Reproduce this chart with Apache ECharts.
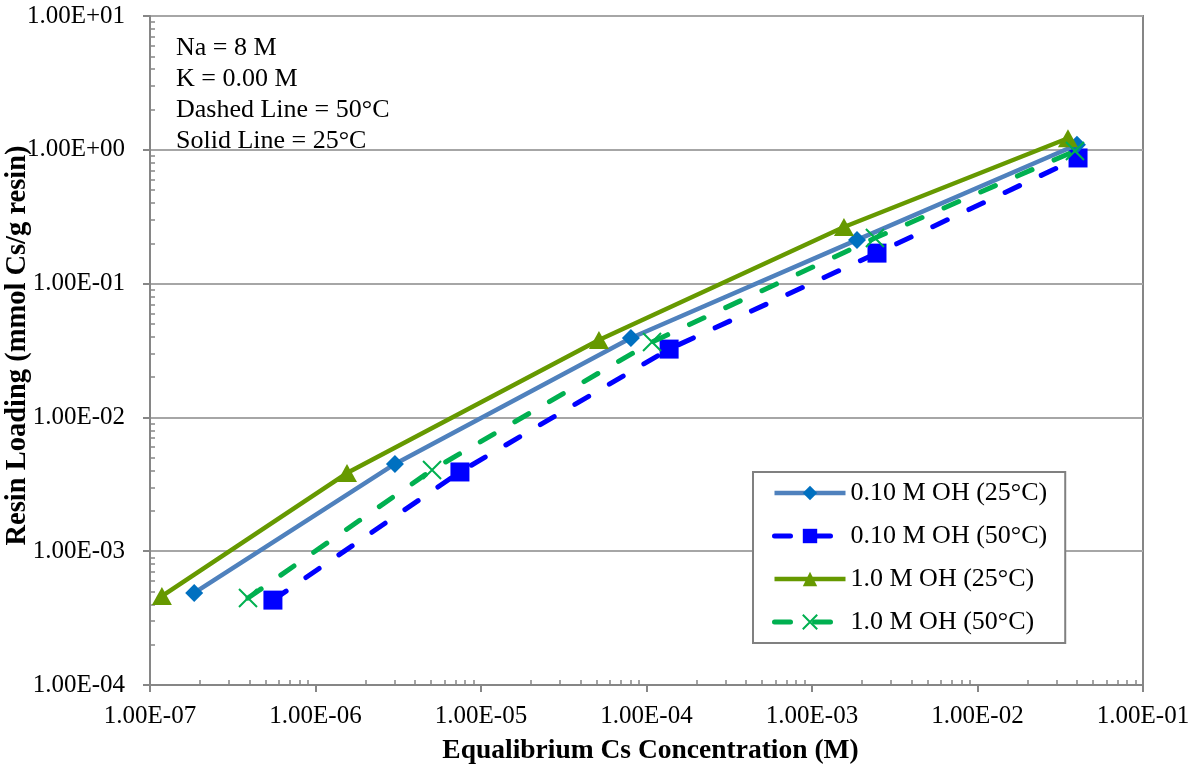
<!DOCTYPE html>
<html>
<head>
<meta charset="utf-8">
<script src="https://cdn.jsdelivr.net/npm/echarts@6/dist/echarts.min.js"></script>
<style>
html,body{margin:0;padding:0;background:#fff;}
#chart{width:1200px;height:769px;}
</style>
</head>
<body>
<div id="chart"></div>
<script>
// ---- data ----
const seriesNames = ['0.10 M OH (25°C)', '0.10 M OH (50°C)', '1.0 M OH (25°C)', '1.0 M OH (50°C)'];
const x_010_25 = [1.85e-7, 3.02e-6, 8.05e-5, 1.87e-3, 3.99e-2];
const y_010_25 = [4.88e-4, 4.49e-3, 3.92e-2, 0.212, 1.09];
const x_010_50 = [5.53e-7, 7.46e-6, 1.37e-4, 2.47e-3, 4.05e-2];
const y_010_50 = [4.31e-4, 3.91e-3, 3.24e-2, 0.169, 0.869];
const x_10_25 = [1.18e-7, 1.55e-6, 5.16e-5, 1.56e-3, 3.52e-2];
const y_10_25 = [4.62e-4, 3.84e-3, 3.79e-2, 0.265, 1.22];
const x_10_50 = [3.91e-7, 5.06e-6, 1.08e-4, 2.40e-3, 3.88e-2];
const y_10_50 = [4.47e-4, 4.05e-3, 3.66e-2, 0.219, 0.98];
const annotationLines = ['Na = 8 M', 'K = 0.00 M', 'Dashed Line = 50°C', 'Solid Line = 25°C'];
const xTitle = 'Equalibrium Cs Concentration (M)';
const yTitle = 'Resin Loading (mmol Cs/g resin)';
const xMin = 1e-7, xMax = 1e-1, yMin = 1e-4, yMax = 1e1;

function pair(xs, ys) { return xs.map((x, i) => [x, ys[i]]); }
function sciLabel(v) {
  const e = Math.round(Math.log10(v));
  const a = Math.abs(e);
  return '1.00E' + (e < 0 ? '-' : '+') + (a < 10 ? '0' : '') + a;
}
function minorValues(lo, hi) {
  const out = [];
  for (let e = Math.round(Math.log10(lo)); e < Math.round(Math.log10(hi)); e++) {
    for (let m = 2; m <= 9; m++) out.push(m * Math.pow(10, e));
  }
  return out;
}

const FONT = '"Liberation Serif", "Times New Roman", serif';
const AXIS_COLOR = '#868686';

const chart = echarts.init(document.getElementById('chart'), null, {renderer: 'canvas'});
const option = {
  animation: false,
  backgroundColor: '#ffffff',
  textStyle: {fontFamily: FONT},
  grid: {left: 150, right: 57, top: 16, bottom: 84, show: true, borderColor: AXIS_COLOR, borderWidth: 2,
         containLabel: false, outerBoundsMode: 'none'},
  xAxis: [{
    type: 'log', logBase: 10, min: xMin, max: xMax, position: 'bottom',
    name: xTitle, nameLocation: 'middle', nameGap: 52, nameMoveOverlap: false,
    nameTextStyle: {fontFamily: FONT, fontSize: 27.5, fontWeight: 'bold', color: '#000', padding: [0, 0, 0, 8]},
    axisLine: {show: true, lineStyle: {color: AXIS_COLOR, width: 2}},
    axisTick: {show: true, inside: false, length: 7, lineStyle: {color: AXIS_COLOR, width: 2}},
    axisLabel: {fontFamily: FONT, fontSize: 25, color: '#000', margin: 19, formatter: sciLabel},
    splitLine: {show: false}
  }, {
    type: 'log', logBase: 10, min: xMin, max: xMax, position: 'bottom', gridIndex: 0,
    axisLine: {show: false},
    axisTick: {show: true, inside: true, length: 5, customValues: minorValues(xMin, xMax), lineStyle: {color: AXIS_COLOR, width: 1.5}},
    axisLabel: {show: false},
    splitLine: {show: false}
  }],
  yAxis: [{
    type: 'log', logBase: 10, min: yMin, max: yMax, position: 'left',
    name: yTitle, nameLocation: 'middle', nameGap: 118, nameRotate: 90, nameMoveOverlap: false,
    nameTextStyle: {fontFamily: FONT, fontSize: 28.5, fontWeight: 'bold', color: '#000', padding: [0, 0, 0, 10]},
    axisLine: {show: true, lineStyle: {color: AXIS_COLOR, width: 2}},
    axisTick: {show: true, inside: false, length: 7, lineStyle: {color: AXIS_COLOR, width: 2}},
    axisLabel: {fontFamily: FONT, fontSize: 25, color: '#000', margin: 25, formatter: sciLabel},
    splitLine: {show: true, lineStyle: {color: '#A6A6A6', width: 2}}
  }, {
    type: 'log', logBase: 10, min: yMin, max: yMax, position: 'left', gridIndex: 0,
    axisLine: {show: false},
    axisTick: {show: true, inside: true, length: 5, customValues: minorValues(yMin, yMax), lineStyle: {color: AXIS_COLOR, width: 1.5}},
    axisLabel: {show: false},
    splitLine: {show: false}
  }],
  legend: {
    orient: 'vertical', left: 753, top: 472,
    padding: [8, 18, 8, 19],
    backgroundColor: '#ffffff', borderColor: '#808080', borderWidth: 2,
    itemWidth: 71, itemHeight: 18, itemGap: 17,
    lineStyle: {width: 'inherit'},
    textStyle: {fontFamily: FONT, fontSize: 26, color: '#000'},
    data: seriesNames
  },
  series: [{
    name: seriesNames[0], type: 'line', data: pair(x_010_25, y_010_25),
    symbol: 'diamond', symbolSize: 18, showAllSymbol: true,
    lineStyle: {color: '#4F81BD', width: 4.5},
    itemStyle: {color: '#0070C0'}, z: 3
  }, {
    name: seriesNames[1], type: 'line', data: pair(x_010_50, y_010_50),
    symbol: 'rect', symbolSize: 19, showAllSymbol: true,
    lineStyle: {color: '#0000FF', width: 5, type: [16, 24], cap: 'round'},
    itemStyle: {color: '#0000FF'}, z: 2
  }, {
    name: seriesNames[2], type: 'line', data: pair(x_10_25, y_10_25),
    symbol: 'triangle', symbolSize: [20, 18], showAllSymbol: true,
    lineStyle: {color: '#669900', width: 4.5},
    itemStyle: {color: '#669900'}, z: 4
  }, {
    name: seriesNames[3], type: 'line', data: pair(x_10_50, y_10_50),
    symbol: 'path://M0,0L10,10M10,0L0,10', symbolSize: 18, showAllSymbol: true,
    lineStyle: {color: '#00B050', width: 5, type: [16, 24], cap: 'round'},
    itemStyle: {color: '#00B050', borderColor: '#00B050', borderWidth: 2}, z: 5
  }],
  graphic: [{
    type: 'text', left: 176, top: 33, z: 10,
    style: {text: annotationLines.join('\n'), font: '26px ' + FONT, lineHeight: 31, fill: '#000'}
  }]
};
chart.setOption(option);
</script>
</body>
</html>
